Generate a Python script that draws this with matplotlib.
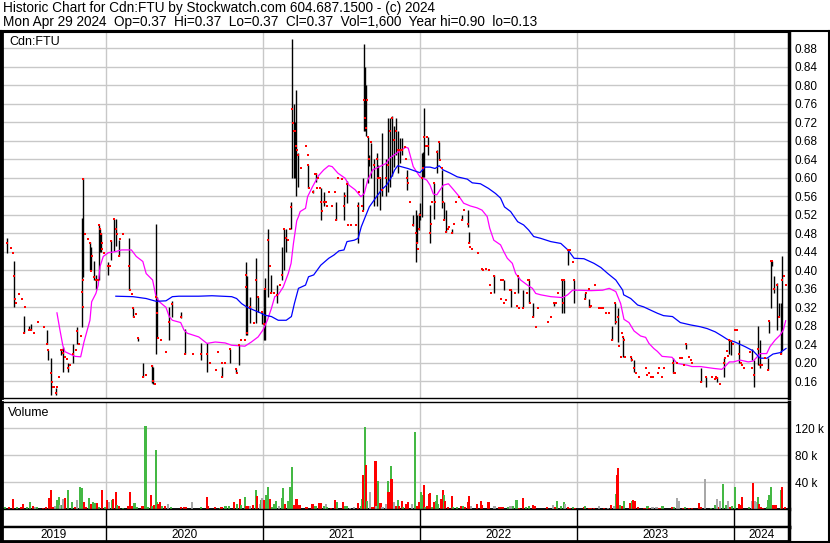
import matplotlib
matplotlib.use("Agg")
import matplotlib.pyplot as plt
from matplotlib.lines import Line2D

plt.rcParams["font.family"] = ["Liberation Sans", "DejaVu Sans"]

W, H = 830, 543

# daily high/low range (decimal years)
bar_t = [
    2019.331, 2019.369, 2019.414, 2019.481, 2019.510, 2019.522, 2019.624, 2019.631, 2019.650, 2019.682,
    2019.713, 2019.726, 2019.758, 2019.790, 2019.815, 2019.847, 2019.854, 2019.898, 2019.904, 2019.924,
    2019.936, 2019.955, 2019.962, 2019.968, 2020.013, 2020.031, 2020.050, 2020.063, 2020.082, 2020.148,
    2020.170, 2020.201, 2020.239, 2020.296, 2020.302, 2020.321, 2020.327, 2020.403, 2020.421, 2020.478,
    2020.503, 2020.604, 2020.645, 2020.742, 2020.792, 2020.830, 2020.846, 2020.890, 2020.899, 2020.918,
    2020.956, 2020.969, 2020.994, 2021.006, 2021.013, 2021.032, 2021.052, 2021.090, 2021.123, 2021.135,
    2021.148, 2021.181, 2021.187, 2021.200, 2021.206, 2021.213, 2021.226, 2021.287, 2021.316, 2021.335,
    2021.368, 2021.387, 2021.465, 2021.516, 2021.535, 2021.606, 2021.639, 2021.645, 2021.652, 2021.658,
    2021.671, 2021.677, 2021.690, 2021.710, 2021.723, 2021.735, 2021.748, 2021.761, 2021.781, 2021.794,
    2021.806, 2021.819, 2021.832, 2021.845, 2021.858, 2021.871, 2021.884, 2021.916, 2021.955, 2021.974,
    2021.981, 2021.994, 2022.000, 2022.013, 2022.019, 2022.026, 2022.051, 2022.064, 2022.090, 2022.109,
    2022.122, 2022.141, 2022.154, 2022.167, 2022.205, 2022.269, 2022.308, 2022.314, 2022.474, 2022.532,
    2022.577, 2022.622, 2022.654, 2022.692, 2022.718, 2022.853, 2022.904, 2022.917, 2022.942, 2022.981,
    2023.051, 2023.076, 2023.222, 2023.241, 2023.259, 2023.291, 2023.342, 2023.361, 2023.614, 2023.696,
    2023.791, 2023.823, 2023.892, 2023.937, 2023.968, 2023.981, 2024.032, 2024.115, 2024.127, 2024.153,
    2024.166, 2024.217, 2024.223, 2024.236, 2024.242, 2024.255, 2024.274, 2024.287, 2024.299, 2024.306,
]
bar_hi = [
    .469, .469, .42, .302, .28, .285, .271, .228, .21, .145,
    .228, .235, .199, .24, .278, .512, .60, .462, .45, .42,
    .39, .498, .49, .48, .419, .466, .51, .51, .466, .469,
    .318, .254, .199, .195, .19, .499, .343, .32, .333, .31,
    .274, .242, .242, .19, .23, .186, .238, .419, .387, .343,
    .426, .343, .31, .36, .383, .49, .39, .368, .451, .49,
    .489, .548, .90, .76, .72, .79, .653, .628, .574, .61,
    .577, .57, .548, .57, .592, .548, .60, .89, .84, .80,
    .689, .65, .675, .64, .653, .628, .599, .696, .64, .729,
    .729, .733, .712, .729, .70, .686, .686, .617, .52, .53,
    .52, .524, .545, .653, .656, .75, .689, .541, .588, .661,
    .678, .617, .548, .53, .49, .52, .53, .483, .39, .379,
    .357, .388, .357, .379, .33, .33, .379, .379, .444, .379,
    .35, .339, .28, .33, .319, .256, .213, .206, .21, .24,
    .189, .17, .17, .21, .249, .249, .25, .229, .206, .28,
    .25, .21, .29, .42, .42, .387, .372, .33, .33, .43,
]
bar_lo = [
    .412, .437, .32, .265, .27, .272, .24, .207, .13, .13,
    .218, .181, .181, .199, .24, .278, .385, .40, .40, .379,
    .36, .379, .44, .44, .39, .422, .441, .452, .43, .357,
    .30, .248, .17, .156, .155, .22, .253, .249, .30, .296,
    .22, .206, .181, .17, .199, .178, .195, .26, .26, .287,
    .286, .31, .285, .249, .249, .343, .35, .329, .379, .40,
    .44, .49, .60, .60, .60, .56, .581, .577, .567, .59,
    .509, .538, .509, .509, .545, .458, .53, .70, .70, .69,
    .588, .625, .599, .538, .538, .599, .531, .56, .56, .57,
    .58, .603, .623, .65, .61, .632, .65, .574, .495, .419,
    .458, .488, .509, .516, .602, .602, .649, .458, .51, .61,
    .638, .535, .509, .483, .48, .509, .494, .458, .35, .357,
    .321, .35, .321, .33, .30, .322, .308, .308, .411, .33,
    .339, .321, .25, .285, .245, .213, .203, .181, .178, .229,
    .159, .148, .159, .17, .22, .216, .199, .206, .148, .195,
    .189, .184, .265, .318, .41, .351, .27, .30, .22, .227,
]

# closing ticks (red)
dot_t = [
    2019.331, 2019.369, 2019.395, 2019.408, 2019.414, 2019.420, 2019.427, 2019.446, 2019.465, 2019.481,
    2019.484, 2019.510, 2019.522, 2019.541, 2019.567, 2019.605, 2019.624, 2019.631, 2019.650, 2019.656,
    2019.662, 2019.669, 2019.682, 2019.688, 2019.701, 2019.713, 2019.720, 2019.726, 2019.739, 2019.752,
    2019.758, 2019.771, 2019.790, 2019.809, 2019.815, 2019.828, 2019.841, 2019.847, 2019.851, 2019.854,
    2019.857, 2019.866, 2019.885, 2019.898, 2019.904, 2019.911, 2019.924, 2019.936, 2019.949, 2019.955,
    2019.962, 2019.968, 2019.975, 2019.978, 2019.987,
    2020.013, 2020.025, 2020.031, 2020.050, 2020.063, 2020.069, 2020.082, 2020.088, 2020.107, 2020.148,
    2020.151, 2020.164, 2020.170, 2020.176, 2020.189, 2020.201, 2020.239, 2020.258, 2020.296, 2020.302,
    2020.314, 2020.321, 2020.327, 2020.333, 2020.352, 2020.384, 2020.403, 2020.421, 2020.478, 2020.503,
    2020.553, 2020.604, 2020.645, 2020.660, 2020.698, 2020.711, 2020.736, 2020.742, 2020.761, 2020.792,
    2020.830, 2020.836, 2020.846, 2020.862, 2020.887, 2020.890, 2020.893, 2020.899, 2020.918, 2020.943,
    2020.956, 2020.969, 2020.994,
    2021.006, 2021.013, 2021.032, 2021.045, 2021.052, 2021.071, 2021.090, 2021.110, 2021.123, 2021.135,
    2021.148, 2021.161, 2021.174, 2021.181, 2021.187, 2021.194, 2021.200, 2021.206, 2021.213, 2021.219,
    2021.226, 2021.245, 2021.277, 2021.284, 2021.287, 2021.290, 2021.316, 2021.329, 2021.335, 2021.342,
    2021.348, 2021.361, 2021.368, 2021.374, 2021.387, 2021.400, 2021.406, 2021.419, 2021.439, 2021.458,
    2021.465, 2021.477, 2021.503, 2021.516, 2021.523, 2021.535, 2021.542, 2021.561, 2021.594, 2021.606,
    2021.613, 2021.632, 2021.639, 2021.645, 2021.652, 2021.658, 2021.665, 2021.671, 2021.677, 2021.690,
    2021.710, 2021.723, 2021.735, 2021.748, 2021.761, 2021.781, 2021.794, 2021.806, 2021.819, 2021.832,
    2021.845, 2021.858, 2021.871, 2021.884, 2021.903, 2021.910, 2021.916, 2021.923, 2021.935, 2021.955,
    2021.974, 2021.981, 2021.987, 2021.994,
    2022.000, 2022.013, 2022.019, 2022.026, 2022.038, 2022.045, 2022.051, 2022.064, 2022.071, 2022.077,
    2022.090, 2022.096, 2022.109, 2022.122, 2022.128, 2022.141, 2022.147, 2022.154, 2022.167, 2022.179,
    2022.186, 2022.205, 2022.218, 2022.231, 2022.250, 2022.269, 2022.282, 2022.308, 2022.314, 2022.321,
    2022.333, 2022.372, 2022.397, 2022.404, 2022.423, 2022.442, 2022.449, 2022.455, 2022.474, 2022.513,
    2022.519, 2022.526, 2022.532, 2022.545, 2022.571, 2022.577, 2022.603, 2022.615, 2022.622, 2022.628,
    2022.654, 2022.679, 2022.686, 2022.692, 2022.699, 2022.718, 2022.737, 2022.750, 2022.814, 2022.833,
    2022.853, 2022.865, 2022.878, 2022.904, 2022.910, 2022.917, 2022.942, 2022.955, 2022.974, 2022.981,
    2023.051, 2023.057, 2023.076, 2023.082, 2023.089, 2023.114, 2023.139, 2023.152, 2023.165, 2023.184,
    2023.203, 2023.222, 2023.241, 2023.247, 2023.259, 2023.266, 2023.278, 2023.285, 2023.291, 2023.297,
    2023.304, 2023.342, 2023.348, 2023.361, 2023.373, 2023.392, 2023.437, 2023.443, 2023.456, 2023.468,
    2023.487, 2023.513, 2023.525, 2023.544, 2023.551, 2023.614, 2023.620, 2023.627, 2023.639, 2023.658,
    2023.671, 2023.684, 2023.696, 2023.715, 2023.728, 2023.734, 2023.791, 2023.823, 2023.861, 2023.880,
    2023.886, 2023.892, 2023.911, 2023.937, 2023.943, 2023.956, 2023.962, 2023.968, 2023.981, 2023.994,
    2024.006, 2024.019, 2024.032, 2024.045, 2024.051, 2024.064, 2024.102, 2024.115, 2024.127, 2024.153,
    2024.166, 2024.178, 2024.198, 2024.217, 2024.223, 2024.236, 2024.242, 2024.255, 2024.274, 2024.287,
    2024.299, 2024.306, 2024.318, 2024.331,
]
dot_p = [
    .46, .46, .449, .438, .388, .338, .33, .349, .338, .265,
    .32, .27, .272, .265, .288, .278, .24, .228, .179, .159,
    .148, .148, .134, .148, .17, .228, .228, .221, .213, .208,
    .188, .196, .22, .228, .269, .24, .258, .354, .32, .597,
    .38, .479, .468, .46, .399, .43, .386, .379, .38, .498,
    .489, .479, .46, .447, .438,
    .41, .41, .464, .51, .489, .479, .43, .468, .479, .41,
    .357, .349, .318, .30, .305, .254, .17, .174, .193, .16,
    .154, .343, .307, .254, .249, .224, .289, .328, .30, .22,
    .22, .22, .22, .20, .184, .224, .199, .17, .199, .23,
    .186, .178, .238, .249, .249, .39, .364, .264, .32, .287,
    .38, .343, .31,
    .285, .36, .465, .41, .35, .35, .347, .368, .389, .489,
    .469, .465, .49, .537, .749, .719, .70, .70, .669, .659,
    .65, .62, .669, .65, .628, .577, .57, .608, .608, .577,
    .599, .577, .548, .529, .548, .548, .54, .57, .54, .57,
    .509, .599, .597, .54, .56, .587, .498, .498, .498, .538,
    .569, .54, .529, .768, .729, .707, .768, .689, .64, .678,
    .628, .64, .599, .599, .574, .60, .628, .70, .729, .682,
    .70, .659, .66, .66, .667, .64, .599, .588, .548, .498,
    .48, .458, .447, .489,
    .52, .60, .62, .689, .669, .689, .669, .48, .501, .548,
    .588, .548, .656, .678, .638, .62, .548, .509, .483, .489,
    .494, .48, .50, .548, .559, .509, .53, .50, .458, .451,
    .447, .438, .403, .40, .403, .40, .368, .35, .388, .379,
    .339, .379, .33, .335, .357, .357, .35, .323, .388, .319,
    .319, .35, .379, .379, .33, .30, .278, .319, .289, .30,
    .33, .33, .35, .379, .33, .379, .444, .444, .419, .379,
    .339, .35, .359, .321, .323, .368, .319, .319, .319, .308,
    .308, .249, .33, .289, .30, .236, .213, .265, .256, .249,
    .213, .213, .206, .189, .178, .17, .189, .174, .178, .17,
    .17, .178, .189, .17, .189, .199, .178, .178, .199, .21,
    .21, .195, .24, .213, .207, .199, .159, .17, .17, .164,
    .17, .168, .155, .199, .21, .225, .214, .249, .248, .24,
    .271, .271, .22, .199, .195, .189, .224, .189, .174, .229,
    .195, .195, .21, .184, .29, .42, .42, .359, .368, .30,
    .22, .38, .388, .369,
]

# short moving average (magenta)
ma_short_t = [
    2019.688, 2019.707, 2019.725, 2019.739, 2019.771, 2019.803, 2019.839, 2019.860, 2019.881, 2019.898,
    2019.909, 2019.936, 2019.951, 2019.962, 2019.983, 2020.015, 2020.057, 2020.099, 2020.162, 2020.193,
    2020.235, 2020.256, 2020.297, 2020.319, 2020.340, 2020.382, 2020.403, 2020.423, 2020.476, 2020.497,
    2020.518, 2020.591, 2020.643, 2020.696, 2020.759, 2020.801, 2020.885, 2020.926, 2020.969, 2021.000,
    2021.028, 2021.054, 2021.075, 2021.097, 2021.129, 2021.161, 2021.179, 2021.194, 2021.215, 2021.226,
    2021.237, 2021.271, 2021.284, 2021.316, 2021.355, 2021.387, 2021.419, 2021.441, 2021.477, 2021.523,
    2021.548, 2021.587, 2021.624, 2021.645, 2021.667, 2021.699, 2021.742, 2021.785, 2021.806, 2021.850,
    2021.882, 2021.910, 2021.925, 2021.957, 2022.000, 2022.043, 2022.064, 2022.085, 2022.107, 2022.128,
    2022.149, 2022.181, 2022.214, 2022.246, 2022.278, 2022.321, 2022.363, 2022.395, 2022.428, 2022.444,
    2022.470, 2022.513, 2022.534, 2022.556, 2022.588, 2022.609, 2022.641, 2022.684, 2022.716, 2022.737,
    2022.769, 2022.833, 2022.908, 2022.940, 2022.972, 2023.004, 2023.089, 2023.163, 2023.205, 2023.247,
    2023.278, 2023.299, 2023.331, 2023.363, 2023.405, 2023.437, 2023.458, 2023.489, 2023.511, 2023.542,
    2023.605, 2023.637, 2023.701, 2023.732, 2023.785, 2023.869, 2023.922, 2023.943, 2023.970, 2023.996,
    2024.038, 2024.091, 2024.123, 2024.166, 2024.208, 2024.229, 2024.261, 2024.293, 2024.314, 2024.329,
]
ma_short = [
    .308, .271, .238, .224, .219, .214, .213, .245, .271, .292,
    .332, .35, .368, .408, .43, .438, .44, .444, .444, .43,
    .419, .393, .379, .343, .332, .32, .30, .292, .287, .271,
    .264, .256, .242, .245, .243, .238, .236, .245, .256, .271,
    .292, .318, .343, .347, .364, .393, .415, .458, .507, .516,
    .527, .534, .559, .581, .605, .617, .626, .624, .61, .599,
    .584, .574, .559, .566, .595, .617, .624, .631, .642, .653,
    .66, .666, .664, .624, .602, .595, .584, .565, .563, .574,
    .584, .587, .574, .561, .545, .539, .535, .53, .516, .491,
    .465, .455, .44, .426, .415, .393, .379, .368, .361, .35,
    .347, .343, .341, .347, .357, .357, .356, .357, .361, .354,
    .328, .294, .287, .269, .258, .255, .242, .231, .225, .214,
    .212, .199, .195, .192, .192, .188, .186, .192, .202, .202,
    .206, .202, .204, .22, .22, .235, .249, .26, .271, .291,
]

# long moving average (blue)
ma_long_t = [
    2020.063, 2020.172, 2020.256, 2020.319, 2020.382, 2020.423, 2020.465, 2020.591, 2020.675, 2020.801,
    2020.832, 2020.864, 2020.895, 2020.948, 2020.990, 2021.011, 2021.054, 2021.097, 2021.148, 2021.181,
    2021.200, 2021.226, 2021.271, 2021.290, 2021.323, 2021.368, 2021.419, 2021.452, 2021.484, 2021.516,
    2021.535, 2021.581, 2021.606, 2021.626, 2021.652, 2021.677, 2021.723, 2021.755, 2021.787, 2021.819,
    2021.839, 2021.858, 2021.923, 2021.981, 2022.000, 2022.032, 2022.064, 2022.096, 2022.122, 2022.147,
    2022.192, 2022.237, 2022.301, 2022.333, 2022.385, 2022.436, 2022.481, 2022.513, 2022.538, 2022.577,
    2022.622, 2022.660, 2022.692, 2022.724, 2022.769, 2022.833, 2022.897, 2022.942, 2022.981, 2023.044,
    2023.108, 2023.152, 2023.196, 2023.247, 2023.291, 2023.297, 2023.342, 2023.386, 2023.424, 2023.468,
    2023.513, 2023.551, 2023.608, 2023.658, 2023.722, 2023.785, 2023.829, 2023.880, 2023.924, 2023.956,
    2024.006, 2024.070, 2024.121, 2024.166, 2024.210, 2024.248, 2024.293, 2024.331,
]
ma_long = [
    .344, .343, .339, .333, .334, .343, .344, .344, .345, .343,
    .339, .328, .321, .313, .307, .303, .30, .292, .292, .30,
    .328, .361, .368, .386, .39, .411, .426, .433, .442, .444,
    .462, .465, .469, .494, .516, .537, .559, .574, .584, .602,
    .617, .626, .62, .613, .611, .623, .623, .62, .626, .617,
    .61, .602, .597, .589, .587, .577, .566, .556, .537, .527,
    .505, .498, .487, .473, .469, .462, .458, .444, .426, .425,
    .415, .406, .393, .379, .357, .347, .339, .325, .321, .314,
    .307, .302, .30, .287, .282, .278, .274, .267, .258, .251,
    .245, .235, .226, .21, .21, .219, .222, .231,
]

# volume in thousands of shares
vol_t = [
    2019.331, 2019.357, 2019.382, 2019.408, 2019.433, 2019.459, 2019.471, 2019.497, 2019.516, 2019.535,
    2019.548, 2019.561, 2019.599, 2019.618, 2019.637, 2019.650, 2019.662, 2019.675, 2019.688, 2019.701,
    2019.707, 2019.720, 2019.726, 2019.739, 2019.758, 2019.783, 2019.803, 2019.815, 2019.834, 2019.847,
    2019.860, 2019.873, 2019.892, 2019.904, 2019.917, 2019.930, 2019.943, 2019.955, 2019.975, 2019.994,
    2020.006, 2020.019, 2020.038, 2020.044, 2020.063, 2020.069, 2020.082, 2020.107, 2020.138, 2020.151,
    2020.164, 2020.182, 2020.195, 2020.233, 2020.252, 2020.264, 2020.289, 2020.296, 2020.308, 2020.321,
    2020.327, 2020.333, 2020.346, 2020.358, 2020.377, 2020.396, 2020.415, 2020.478, 2020.497, 2020.509,
    2020.547, 2020.604, 2020.643, 2020.650, 2020.692, 2020.730, 2020.736, 2020.761, 2020.786, 2020.818,
    2020.836, 2020.855, 2020.862, 2020.887, 2020.893, 2020.906, 2020.918, 2020.937, 2020.956, 2020.962,
    2020.981, 2020.987, 2020.994, 2021.006, 2021.019, 2021.032, 2021.045, 2021.058, 2021.071, 2021.084,
    2021.103, 2021.123, 2021.129, 2021.142, 2021.161, 2021.174, 2021.187, 2021.200, 2021.213, 2021.219,
    2021.232, 2021.277, 2021.316, 2021.335, 2021.355, 2021.368, 2021.387, 2021.400, 2021.406, 2021.432,
    2021.458, 2021.471, 2021.510, 2021.523, 2021.535, 2021.555, 2021.581, 2021.606, 2021.626, 2021.632,
    2021.639, 2021.652, 2021.658, 2021.665, 2021.684, 2021.697, 2021.716, 2021.723, 2021.735, 2021.748,
    2021.761, 2021.781, 2021.794, 2021.800, 2021.813, 2021.819, 2021.832, 2021.845, 2021.858, 2021.864,
    2021.884, 2021.890, 2021.910, 2021.923, 2021.948, 2021.968, 2021.981, 2021.994, 2022.006, 2022.013,
    2022.026, 2022.032, 2022.045, 2022.058, 2022.064, 2022.077, 2022.090, 2022.103, 2022.109, 2022.115,
    2022.135, 2022.147, 2022.154, 2022.160, 2022.179, 2022.205, 2022.212, 2022.237, 2022.263, 2022.276,
    2022.288, 2022.308, 2022.314, 2022.327, 2022.365, 2022.391, 2022.397, 2022.436, 2022.474, 2022.506,
    2022.526, 2022.558, 2022.577, 2022.590, 2022.615, 2022.628, 2022.654, 2022.673, 2022.692, 2022.718,
    2022.731, 2022.808, 2022.846, 2022.859, 2022.872, 2022.897, 2022.917, 2022.923, 2022.942, 2022.955,
    2022.974, 2022.987, 2023.044, 2023.051, 2023.076, 2023.089, 2023.108, 2023.139, 2023.171, 2023.196,
    2023.215, 2023.234, 2023.247, 2023.253, 2023.259, 2023.272, 2023.285, 2023.297, 2023.335, 2023.348,
    2023.354, 2023.367, 2023.386, 2023.430, 2023.449, 2023.456, 2023.481, 2023.506, 2023.525, 2023.544,
    2023.608, 2023.620, 2023.639, 2023.652, 2023.677, 2023.690, 2023.715, 2023.734, 2023.778, 2023.791,
    2023.816, 2023.854, 2023.880, 2023.892, 2023.905, 2023.911, 2023.930, 2023.949, 2023.962, 2023.975,
    2023.987, 2024.006, 2024.032, 2024.038, 2024.051, 2024.096, 2024.115, 2024.121, 2024.134, 2024.140,
    2024.153, 2024.159, 2024.172, 2024.185, 2024.210, 2024.217, 2024.223, 2024.236, 2024.248, 2024.255,
    2024.268, 2024.299, 2024.306, 2024.325,
]
vol_k = [
    10, 3.6, 2.6, 15, 3.6, 2.6, 7.7, 2.6, 9.7, 5,
    2.6, 2.6, 1.5, 3.6, 17, 28, 3.6, 4.6, 14, 18,
    6, 6, 15, 16, 28, 11, 2.6, 14, 32, 31,
    11, 2.6, 16, 7, 10, 9, 9, 3.6, 28, 2.6,
    14, 10, 14, 15, 26, 6, 4.6, 1.5, 4.6, 26,
    4.6, 9, 2.6, 4.6, 124, 3.6, 21.5, 4.6, 5.6, 88,
    11, 7.7, 11, 4.6, 4.6, 7, 3.6, 2.6, 2.6, 2.6,
    10, 3.6, 18, 4.6, 2.6, 1.5, 2.6, 4.6, 4.6, 11,
    7.7, 15, 6, 18, 4.6, 4.6, 4.6, 6, 28, 19,
    7, 14, 16, 14, 21, 33, 15, 3.6, 7, 12,
    5, 17, 31, 7.7, 12, 32, 62, 5.6, 15, 11,
    5.6, 2.6, 7.7, 4.6, 9, 9, 4.6, 7.7, 2.6, 1.5,
    14, 10, 11, 4.6, 4.6, 1.5, 2.6, 9, 4.6, 15,
    51, 121.5, 66, 12, 25, 2.6, 71, 4.6, 41.5, 9,
    2.6, 7, 41.5, 25, 64.6, 44.6, 11, 4.6, 14, 4.6,
    12, 2.6, 7.7, 11, 7.7, 114, 4.6, 10, 26, 21.5,
    35, 2.6, 4.6, 23, 24, 2.6, 11, 12, 21.5, 7.7,
    15, 28, 21, 12, 2.6, 20, 2.6, 2.6, 4.6, 4.6,
    2.6, 10, 20, 4.6, 7.7, 12, 5.6, 11, 4.6, 2.6,
    2.6, 2.6, 4.6, 4.6, 14, 1.5, 17, 2.6, 4.6, 6,
    4.6, 2.6, 6, 2.6, 12, 4.6, 10, 7.7, 3.6, 1.5,
    2.6, 1.5, 2.6, 4.6, 1.5, 1.5, 1.5, 4.6, 1.5, 1.5,
    5.6, 4.6, 23, 51, 61.5, 5.6, 4.6, 12, 9.2, 12,
    14, 12, 3.6, 1.5, 4.6, 1.5, 2.6, 2.6, 1.5, 4.6,
    2.6, 2.6, 17, 12, 1.5, 2.6, 1.5, 1.5, 9.2, 2.6,
    44, 1.5, 5.6, 15, 2.6, 12, 37, 5.6, 12, 2.6,
    4.6, 33, 7.7, 5.6, 18, 3.6, 12, 38.5, 12, 11,
    18, 7.7, 2.6, 1.5, 2.6, 14, 21.5, 32, 6, 6,
    6, 28, 32, 2.6,
]
# u = up day, d = down day, n = unchanged
vol_dir = (
    "nuddudduud" "nudddddnuu" "nunduudnuu" "dduduududu"
    "dnuddududd" "duuduududu" "uddudnuddd" "nuddduduud"
    "uduuddndud" "nunduuduuu" "nuuduuuddd" "ddduddunud"
    "duduunnduu" "dudunddnud" "nnududndud" "duddnudduu"
    "duddduduuu" "dduddduudu" "dddnddddnd" "dunuudduud"
    "ddnduuundd" "uddudddndn" "dnuddududu" "ddddudnndu"
    "dunndudddd" "nuundnuund" "uudddundnn" "uddduuuudd"
    "dudd"
)

years = ["2019", "2020", "2021", "2022", "2023", "2024"]
year_starts = [2020, 2021, 2022, 2023, 2024]
price_ticks = [0.16, 0.20, 0.24, 0.28, 0.32, 0.36, 0.40, 0.44, 0.48, 0.52,
               0.56, 0.60, 0.64, 0.68, 0.72, 0.76, 0.80, 0.84, 0.88]
vol_ticks = [40, 80, 120]

X0, X1 = 2019.338, 2024.350
GRID = "#c8c8c8"
VOL_COL = {"u": "#44b844", "d": "#ff0000", "n": "#a8a8a8"}


def box(x0, y0, x1, y1):
    # pixel box (origin top-left) -> figure fraction rect
    return [x0 / W, 1 - y1 / H, (x1 - x0) / W, (y1 - y0) / H]


fig = plt.figure(figsize=(W / 100, H / 100), dpi=100, facecolor="white")

ax_p = fig.add_axes(box(2, 32, 789, 398))
ax_v = fig.add_axes(box(2, 402, 789, 509))
ax_e = fig.add_axes(box(2, 509, 789, 527))
ax_y = fig.add_axes(box(2, 527, 789, 541))

for ax in (ax_p, ax_v, ax_e, ax_y):
    ax.set_xlim(X0, X1)
    for s in ax.spines.values():
        s.set_color("black")
        s.set_linewidth(1)
    ax.spines["left"].set_linewidth(2)
    ax.spines["right"].set_linewidth(2.5)
    ax.tick_params(length=0)

# price panel
ax_p.set_ylim(0.124, 0.915)
ax_p.set_xticks(year_starts)
ax_p.set_xticklabels([])
ax_p.set_yticks(price_ticks)
ax_p.set_yticklabels([f"{v:.2f}" for v in price_ticks], fontsize=8.5)
ax_p.yaxis.tick_right()
ax_p.tick_params(axis="y", pad=4)
ax_p.grid(True, color=GRID, linewidth=1)
ax_p.set_axisbelow(True)
ax_p.spines["top"].set_linewidth(1.5)

ax_p.vlines(bar_t, bar_lo, bar_hi, color="black", linewidth=1.0, zorder=3)
ax_p.plot(ma_short_t, ma_short, color="#ff00ff", linewidth=0.9, zorder=4)
ax_p.plot(ma_long_t, ma_long, color="#0000ff", linewidth=0.9, zorder=4)
ax_p.plot(dot_t, dot_p, "s", color="#ff0000", markersize=1.7, markeredgewidth=0, zorder=5)

# volume panel
ax_v.set_ylim(0, 159)
ax_v.set_xticks(year_starts)
ax_v.set_xticklabels([])
ax_v.set_yticks(vol_ticks)
ax_v.set_yticklabels([f"{v} k" for v in vol_ticks], fontsize=8.5)
ax_v.yaxis.tick_right()
ax_v.tick_params(axis="y", pad=4)
ax_v.grid(True, color=GRID, linewidth=1)
ax_v.set_axisbelow(True)
ax_v.spines["bottom"].set_linewidth(2)
ax_v.bar(vol_t, vol_k, width=0.014, color=[VOL_COL[c] for c in vol_dir],
         linewidth=0, zorder=3)

# empty strip and year-label strip
for ax in (ax_e, ax_y):
    ax.set_xticks([])
    ax.set_yticks([])
    ax.set_ylim(0, 1)
    for x in year_starts:
        ax.axvline(x, color="black", linewidth=1)
ax_e.spines["bottom"].set_linewidth(2.5)
ax_y.spines["bottom"].set_linewidth(2)

mids = [(X0 + 2020) / 2, 2020.5, 2021.5, 2022.5, 2023.5, (2024 + X1) / 2]
for m, lab in zip(mids, years):
    ax_y.text(m, 0.45, lab, ha="center", va="center", fontsize=8.5)

# panel captions and header
fig.text(9 / W, 1 - 42 / H, "Cdn:FTU", fontsize=9, va="center")
fig.text(8 / W, 1 - 413 / H, "Volume", fontsize=9, va="center")
fig.text(3 / W, 1 - 8 / H,
         "Historic Chart for Cdn:FTU by Stockwatch.com 604.687.1500 - (c) 2024",
         fontsize=9.85, va="center")
fig.text(3 / W, 1 - 22 / H,
         "Mon Apr 29 2024  Op=0.37  Hi=0.37  Lo=0.37  Cl=0.37  Vol=1,600  "
         "Year hi=0.90  lo=0.13", fontsize=9.85, va="center")

# outer frame
for xs, ys in (([0, W], [31, 31]), ([W - 1, W - 1], [31, H - 1]),
               ([0, W], [H - 1.5, H - 1.5]), ([1, 1], [31, H])):
    fig.add_artist(Line2D([x / W for x in xs], [1 - y / H for y in ys],
                          color="black", linewidth=1.5))

fig.savefig("out.png", dpi=100)
